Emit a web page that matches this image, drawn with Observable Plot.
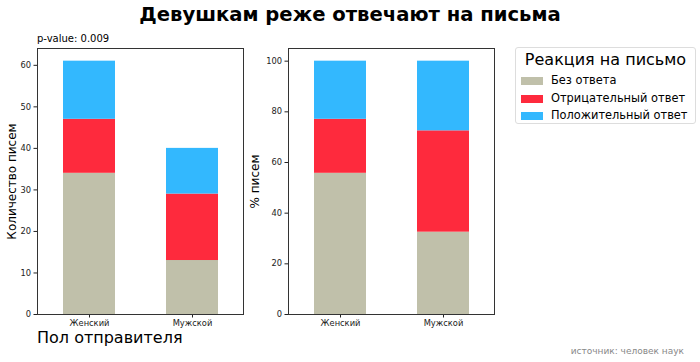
<!DOCTYPE html>
<html><head><meta charset="utf-8">
<script src="https://cdn.jsdelivr.net/npm/d3@7"></script>
<script src="https://cdn.jsdelivr.net/npm/@observablehq/plot@0.6"></script>
<style>
body{margin:0;background:#fff;font-family:"DejaVu Sans",sans-serif;}
#wrap{position:relative;width:700px;height:362px;overflow:hidden;}
.abs{position:absolute;white-space:nowrap;}
</style></head>
<body><div id="wrap"></div>
<script>
const title = "Девушкам реже отвечают на письма";
const pValueText = "p-value: 0.009";
const xLabel = "Пол отправителя";
const yLabelCount = "Количество писем";
const yLabelPct = "% писем";
const legendTitle = "Реакция на письмо";
const source = "источник: человек наук";

const categories = ["Женский", "Мужской"];
const responses = ["Без ответа", "Отрицательный ответ", "Положительный ответ"];
const colors = ["#c0c0aa", "#fe2a3d", "#33b8fe"];
const noReply = [34, 13];
const negative = [13, 16];
const positive = [14, 11];
const countTicks = [0, 10, 20, 30, 40, 50, 60];
const pctTicks = [0, 20, 40, 60, 80, 100];

const series = [noReply, negative, positive];
const rows = [];
categories.forEach((c, i) => {
  const total = series.reduce((s, a) => s + a[i], 0);
  responses.forEach((r, j) => rows.push({sex: c, resp: r, count: series[j][i], pct: 100 * series[j][i] / total}));
});

const wrap = document.getElementById("wrap");

function panel(yField, ticks, yMax, yLabel, left, ml, ldx) {
  const p = Plot.plot({
    width: 260, height: 340,
    marginLeft: ml, marginRight: 260 - ml - 206, marginTop: 48, marginBottom: 26,
    style: {fontFamily: "DejaVu Sans", fontSize: "8.3px", color: "#222", background: "transparent"},
    x: {domain: categories, paddingInner: 0.5, paddingOuter: 0.25, label: null, tickSize: 3.5, tickPadding: 2},
    y: {domain: [0, yMax], ticks: ticks, label: null, tickSize: 3.5, tickPadding: 3},
    color: {domain: responses, range: colors},
    marks: [
      Plot.barY(rows, Plot.stackY({x: "sex", y: yField, fill: "resp", order: responses})),
      Plot.frame({stroke: "#333", strokeWidth: 1}),
      Plot.text([yLabel], {frameAnchor: "left", textAnchor: "middle", rotate: -90, dx: ldx, text: d => d, fontSize: 12, fill: "#000"})
    ]
  });
  p.style.position = "absolute";
  p.style.left = left + "px";
  p.style.top = "0px";
  wrap.appendChild(p);
}

panel("count", countTicks, 64.05, yLabelCount, 0, 37, -25);
panel("pct", pctTicks, 105, yLabelPct, 240, 48, -33);

function addText(txt, css) {
  const d = document.createElement("div");
  d.className = "abs";
  d.textContent = txt;
  Object.assign(d.style, css);
  wrap.appendChild(d);
  return d;
}
addText(title, {left: "0px", width: "700px", textAlign: "center", top: "3px", fontSize: "19.6px", fontWeight: "bold", color: "#000"});
addText(pValueText, {left: "37px", top: "33px", fontSize: "10px", color: "#000"});
addText(xLabel, {left: "37px", top: "328px", fontSize: "16px", color: "#000"});
addText(source, {right: "16px", top: "346px", fontSize: "9px", color: "#888"});

const leg = document.createElement("div");
Object.assign(leg.style, {position: "absolute", left: "515px", top: "47px", width: "181px", height: "77px",
  border: "1px solid #ddd", borderRadius: "3px", boxSizing: "border-box"});
wrap.appendChild(leg);
const lt = document.createElement("div");
lt.textContent = legendTitle;
Object.assign(lt.style, {position: "absolute", left: "0", width: "100%", textAlign: "center", top: "2px", fontSize: "16px", whiteSpace: "nowrap", color: "#000"});
leg.appendChild(lt);
responses.forEach((r, i) => {
  const sw = document.createElement("div");
  Object.assign(sw.style, {position: "absolute", left: "5px", top: (29 + i * 17.5) + "px", width: "22px", height: "8px", background: colors[i]});
  leg.appendChild(sw);
  const t = document.createElement("div");
  t.textContent = r;
  Object.assign(t.style, {position: "absolute", left: "35px", top: (25 + i * 17.5) + "px", fontSize: "11.4px", whiteSpace: "nowrap", color: "#000"});
  leg.appendChild(t);
});
</script></body></html>
